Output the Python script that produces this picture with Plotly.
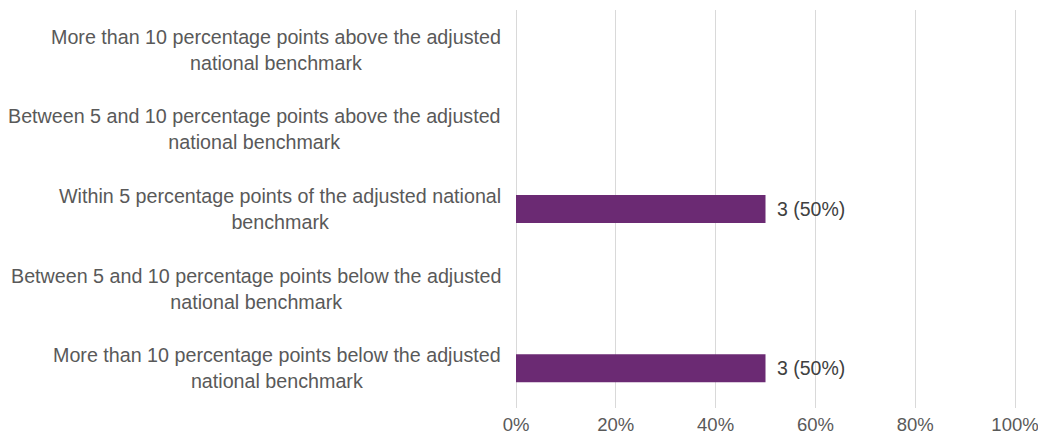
import plotly.graph_objects as go

categories = [
    "More than 10 percentage points above the adjusted<br>national benchmark",
    "Between 5 and 10 percentage points above the adjusted<br>national benchmark",
    "Within 5 percentage points of the adjusted national<br>benchmark",
    "Between 5 and 10 percentage points below the adjusted<br>national benchmark",
    "More than 10 percentage points below the adjusted<br>national benchmark",
]
counts = [0, 0, 3, 0, 3]
percents = [0, 0, 50, 0, 50]
tick_vals = [0, 20, 40, 60, 80, 100]
tick_text = ["0%", "20%", "40%", "60%", "80%", "100%"]

FONT = "Liberation Sans, Arial, sans-serif"

fig = go.Figure()
fig.add_trace(go.Bar(
    y=categories,
    x=percents,
    orientation="h",
    marker=dict(color="#6B2A73", line=dict(width=0)),
    width=0.35,
    hoverinfo="skip",
))

# category labels (centered multi-line)
for cat in categories:
    fig.add_annotation(
        x=0, xref="x", y=cat, yref="y",
        text=cat, showarrow=False,
        xanchor="right", yanchor="middle", align="center",
        xshift=-13, yshift=0,
        font=dict(family=FONT, size=19.7, color="#595959"),
    )

# data labels
for cat, c, p in zip(categories, counts, percents):
    if c > 0:
        fig.add_annotation(
            x=p, xref="x", y=cat, yref="y",
            text=f"{c} ({p}%)", showarrow=False,
            xanchor="left", yanchor="middle",
            xshift=9,
            font=dict(family=FONT, size=19.5, color="#404040"),
        )

fig.update_layout(
    width=1038, height=438,
    margin=dict(l=514, r=21, t=10, b=30, autoexpand=False),
    paper_bgcolor="white", plot_bgcolor="white",
    showlegend=False,
    font=dict(family=FONT, size=18.5, color="#595959"),
)
fig.update_xaxes(
    range=[-0.4, 100.4],
    tickvals=tick_vals, ticktext=tick_text,
    showgrid=True, gridcolor="#D9D9D9", gridwidth=1,
    zeroline=False, showline=False,
    tickfont=dict(family=FONT, size=18.5, color="#595959"),
    ticks="", ticklen=0,
    ticklabelstandoff=3,
    ticklabeloverflow="allow",
    automargin=False,
)
fig.update_yaxes(
    autorange="reversed",
    showticklabels=False,
    showgrid=False, zeroline=False, showline=False,
    automargin=False,
)

fig.write_html(
    "out.html",
    config={"displayModeBar": False},
    post_script="document.body.style.margin='0';document.body.style.overflow='hidden';",
)
